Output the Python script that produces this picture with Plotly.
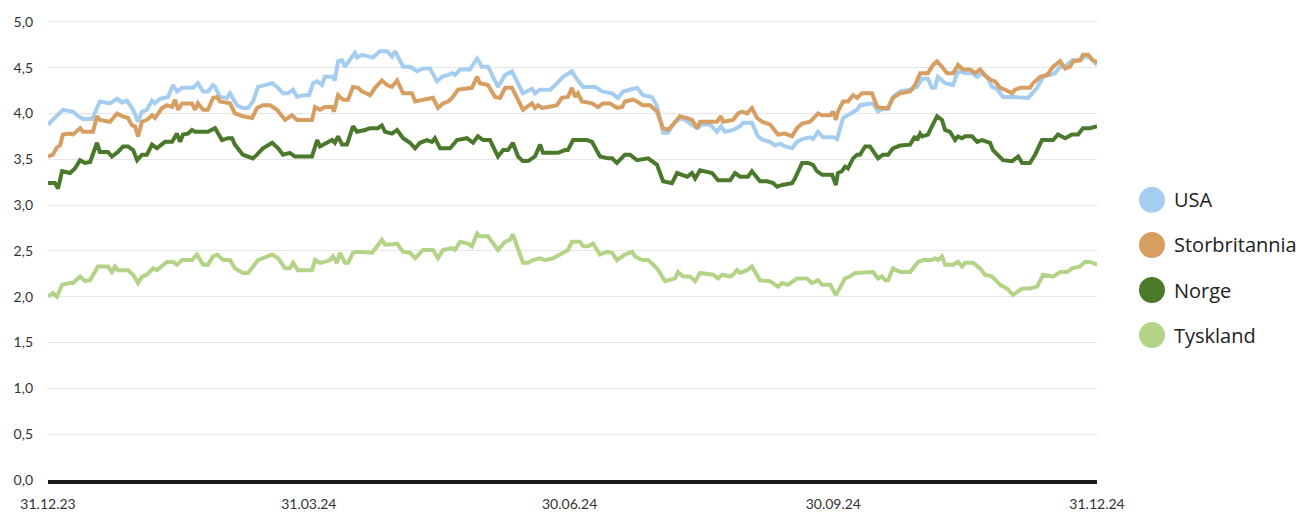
import pandas as pd
import plotly.graph_objects as go

BASE_DATE = "2023-12-31"

# days after 31.12.23 and values (percent)
usa_days = [0, 1.7, 5.2, 8.7, 10.5, 12.2, 15.4, 18.1, 21.6, 24.1,
            25.8, 27.6, 29.7, 31.4, 32.8, 34.5, 36.3, 37.3, 39.1, 41.9,
            43.6, 45.0, 46.8, 50.6, 52.3, 54.1, 55.8, 57.6, 58.3, 60.0,
            62.5, 63.5, 65.9, 68.0, 69.8, 71.5, 73.3, 75.7, 78.2, 79.9,
            82.0, 83.7, 85.5, 86.9, 89.0, 91.1, 92.5, 93.9, 95.6, 96.6,
            99.4, 100.1, 101.2, 102.6, 103.6, 106.1, 107.1, 107.8, 109.6, 113.4,
            115.8, 118.3, 120.0, 121.1, 123.9, 126.3, 128.8, 130.8, 133.3, 135.7,
            137.5, 139.6, 141.0, 142.0, 143.8, 147.2, 149.7, 151.4, 153.5, 157.0,
            159.5, 161.9, 165.7, 168.9, 169.9, 171.7, 175.2, 177.6, 179.7, 182.8,
            184.6, 186.7, 190.9, 193.3, 196.8, 198.9, 200.6, 205.5, 207.6, 210.7,
            212.5, 214.6, 216.3, 218.8, 221.2, 224.0, 226.5, 228.2, 231.0, 233.4,
            234.8, 236.2, 239.0, 241.5, 242.5, 245.6, 247.7, 249.5, 251.9, 253.7,
            255.4, 257.2, 259.6, 261.3, 263.1, 265.9, 266.9, 268.7, 270.4, 273.9,
            275.3, 277.4, 280.5, 282.3, 283.3, 287.9, 289.6, 291.3, 293.1, 294.8,
            297.3, 300.8, 303.2, 305.0, 307.0, 308.4, 309.5, 310.5, 313.0, 315.8,
            317.2, 318.2, 320.0, 322.4, 324.2, 325.9, 328.0, 329.4, 331.1, 333.2,
            336.4, 339.2, 342.0, 345.1, 347.2, 351.4, 353.1, 354.9, 357.3, 360.1,
            361.8, 363.6, 366]
usa_vals = [3.88, 3.93, 4.04, 4.02, 3.97, 3.94, 3.94, 4.13, 4.11, 4.16,
            4.12, 4.14, 4.04, 3.91, 4.02, 4.04, 4.14, 4.11, 4.16, 4.18,
            4.31, 4.24, 4.28, 4.28, 4.33, 4.24, 4.24, 4.31, 4.29, 4.18,
            4.17, 4.22, 4.09, 4.06, 4.06, 4.13, 4.29, 4.31, 4.33, 4.29,
            4.22, 4.22, 4.26, 4.18, 4.20, 4.20, 4.33, 4.35, 4.31, 4.40,
            4.40, 4.36, 4.57, 4.58, 4.51, 4.62, 4.66, 4.61, 4.64, 4.61,
            4.68, 4.68, 4.62, 4.68, 4.51, 4.51, 4.46, 4.49, 4.49, 4.35,
            4.40, 4.42, 4.44, 4.42, 4.48, 4.48, 4.60, 4.51, 4.51, 4.29,
            4.42, 4.46, 4.22, 4.27, 4.22, 4.26, 4.26, 4.33, 4.40, 4.46,
            4.37, 4.29, 4.29, 4.24, 4.22, 4.17, 4.24, 4.28, 4.20, 4.18,
            4.08, 3.79, 3.79, 3.91, 3.95, 3.89, 3.84, 3.88, 3.88, 3.80,
            3.86, 3.80, 3.82, 3.86, 3.90, 3.90, 3.75, 3.71, 3.69, 3.65,
            3.67, 3.64, 3.62, 3.69, 3.72, 3.74, 3.72, 3.80, 3.74, 3.74,
            3.72, 3.95, 4.00, 4.04, 4.09, 4.11, 4.02, 4.05, 4.05, 4.18,
            4.24, 4.26, 4.29, 4.38, 4.38, 4.28, 4.28, 4.40, 4.33, 4.31,
            4.44, 4.46, 4.44, 4.44, 4.40, 4.44, 4.38, 4.29, 4.27, 4.18,
            4.18, 4.17, 4.17, 4.28, 4.40, 4.44, 4.51, 4.51, 4.58, 4.58,
            4.62, 4.61, 4.53]

uk_days = [0, 1.7, 3.1, 4.2, 5.2, 7.7, 8.7, 11.2, 12.2, 15.7,
           17.1, 18.1, 21.6, 24.1, 25.8, 27.9, 29.3, 30.4, 31.4, 32.8,
           34.5, 36.3, 37.3, 39.8, 41.5, 43.3, 44.3, 45.4, 46.8, 50.2,
           51.3, 52.3, 54.1, 55.8, 57.6, 59.0, 60.0, 63.5, 65.2, 68.0,
           71.2, 72.9, 75.0, 77.5, 79.9, 82.7, 85.1, 86.9, 92.1, 93.2,
           94.9, 96.6, 99.1, 99.8, 101.2, 102.9, 104.7, 106.4, 108.2, 109.6,
           112.4, 114.1, 116.5, 118.3, 120.0, 121.8, 123.9, 127.0, 128.1, 130.8,
           134.3, 136.1, 137.8, 139.6, 141.0, 143.1, 147.9, 149.7, 150.7, 153.5,
           156.0, 157.7, 159.5, 161.9, 165.7, 168.9, 169.9, 171.0, 172.4, 174.5,
           177.6, 179.3, 181.4, 182.8, 183.9, 184.9, 186.3, 189.8, 191.9, 193.6,
           196.1, 198.5, 200.3, 201.3, 204.1, 205.5, 207.6, 210.0, 212.5, 214.6,
           216.3, 218.1, 220.5, 223.0, 224.7, 226.5, 227.5, 233.4, 234.8, 235.5,
           239.0, 240.8, 242.1, 243.9, 245.6, 247.4, 249.1, 251.9, 254.7, 257.2,
           259.6, 261.3, 263.1, 265.9, 268.7, 270.1, 272.9, 273.9, 274.9, 275.6,
           277.4, 279.1, 280.9, 282.3, 284.0, 287.5, 289.3, 291.3, 293.1, 294.8,
           297.3, 300.8, 302.5, 304.3, 307.0, 308.8, 310.2, 311.9, 313.7, 315.8,
           317.5, 319.3, 321.7, 323.5, 325.2, 326.9, 328.7, 330.4, 332.2, 333.9,
           336.4, 337.4, 339.2, 342.6, 343.7, 346.1, 348.6, 350.7, 353.1, 354.9,
           356.6, 357.7, 360.1, 361.1, 362.9, 364.6, 366]
uk_vals = [3.53, 3.55, 3.63, 3.65, 3.77, 3.78, 3.77, 3.84, 3.80, 3.80,
           3.97, 3.93, 3.91, 4.00, 3.97, 3.95, 3.87, 3.86, 3.75, 3.91,
           3.93, 3.98, 3.95, 4.06, 4.09, 4.07, 4.15, 4.04, 4.11, 4.11,
           4.04, 4.11, 4.04, 4.04, 4.17, 4.18, 4.13, 4.11, 4.00, 3.97,
           3.95, 4.06, 4.09, 4.09, 4.04, 3.93, 3.98, 3.93, 3.93, 4.07,
           4.04, 4.07, 4.07, 4.02, 4.20, 4.15, 4.15, 4.29, 4.28, 4.24,
           4.20, 4.28, 4.36, 4.31, 4.29, 4.36, 4.22, 4.22, 4.13, 4.15,
           4.17, 4.06, 4.11, 4.13, 4.17, 4.26, 4.28, 4.40, 4.33, 4.31,
           4.18, 4.17, 4.28, 4.28, 4.04, 4.11, 4.06, 4.09, 4.06, 4.07,
           4.09, 4.17, 4.18, 4.28, 4.18, 4.22, 4.13, 4.11, 4.07, 4.11,
           4.11, 4.06, 4.07, 4.13, 4.15, 4.13, 4.09, 4.09, 4.02, 3.84,
           3.82, 3.88, 3.97, 3.95, 3.93, 3.84, 3.91, 3.91, 3.97, 3.91,
           3.93, 4.00, 4.02, 4.00, 4.06, 3.95, 3.91, 3.88, 3.77, 3.78,
           3.75, 3.84, 3.89, 3.91, 4.00, 3.98, 3.98, 4.02, 3.93, 4.02,
           4.13, 4.13, 4.20, 4.17, 4.22, 4.22, 4.07, 4.06, 4.06, 4.17,
           4.22, 4.24, 4.31, 4.44, 4.44, 4.53, 4.57, 4.51, 4.44, 4.44,
           4.53, 4.48, 4.48, 4.44, 4.48, 4.42, 4.37, 4.35, 4.28, 4.26,
           4.22, 4.26, 4.28, 4.28, 4.33, 4.40, 4.42, 4.51, 4.57, 4.49,
           4.51, 4.57, 4.58, 4.64, 4.64, 4.58, 4.56]

no_days = [0, 2.4, 3.5, 4.9, 7.7, 9.4, 11.2, 12.9, 14.7, 15.7,
           17.1, 18.1, 20.9, 22.3, 24.4, 26.2, 27.9, 29.7, 31.1, 32.8,
           34.5, 36.3, 38.0, 40.8, 43.3, 45.0, 46.1, 47.1, 48.8, 50.2,
           51.3, 55.8, 58.3, 60.7, 62.8, 64.2, 65.2, 68.0, 71.5, 72.9,
           75.0, 78.2, 80.3, 82.0, 84.4, 86.2, 92.1, 93.9, 94.9, 97.3,
           99.1, 100.1, 101.2, 102.6, 104.3, 106.4, 107.8, 110.6, 112.4, 115.1,
           116.5, 117.6, 120.0, 121.8, 123.9, 126.3, 128.1, 129.8, 132.2, 134.0,
           135.0, 136.8, 140.3, 142.7, 146.2, 148.3, 150.0, 151.8, 154.2, 157.0,
           158.8, 160.5, 162.2, 164.0, 165.7, 167.5, 169.9, 171.7, 172.7, 175.2,
           178.0, 180.4, 181.4, 183.2, 188.1, 189.8, 192.6, 195.4, 196.8, 198.5,
           201.3, 203.1, 205.5, 209.4, 212.5, 214.6, 217.7, 219.5, 221.2, 223.0,
           224.7, 225.8, 227.5, 229.2, 231.7, 233.8, 238.0, 239.7, 241.5, 244.2,
           245.6, 248.4, 250.9, 253.0, 254.4, 256.1, 259.6, 260.6, 263.1, 265.2,
           266.9, 268.3, 270.1, 273.6, 274.9, 275.6, 277.0, 278.1, 279.1, 280.9,
           282.3, 283.3, 285.1, 286.8, 289.6, 291.3, 293.1, 294.8, 297.3, 300.8,
           302.5, 303.2, 304.3, 305.0, 307.0, 308.4, 310.2, 311.9, 313.0, 314.7,
           316.5, 317.5, 318.9, 320.0, 322.4, 324.2, 325.9, 328.7, 329.7, 333.2,
           336.4, 338.5, 339.9, 342.6, 344.4, 346.8, 348.9, 350.7, 352.4, 354.9,
           357.3, 359.4, 361.1, 363.6, 366]
no_vals = [3.24, 3.24, 3.18, 3.37, 3.35, 3.40, 3.49, 3.46, 3.47, 3.57,
           3.68, 3.58, 3.58, 3.53, 3.58, 3.64, 3.64, 3.60, 3.49, 3.55,
           3.55, 3.66, 3.62, 3.69, 3.69, 3.78, 3.69, 3.77, 3.78, 3.82,
           3.80, 3.80, 3.84, 3.71, 3.73, 3.73, 3.66, 3.55, 3.51, 3.55,
           3.62, 3.68, 3.62, 3.55, 3.57, 3.53, 3.53, 3.71, 3.64, 3.68,
           3.71, 3.68, 3.75, 3.66, 3.66, 3.86, 3.80, 3.82, 3.84, 3.84,
           3.87, 3.80, 3.78, 3.82, 3.73, 3.68, 3.62, 3.68, 3.71, 3.69,
           3.73, 3.62, 3.62, 3.71, 3.73, 3.68, 3.75, 3.71, 3.71, 3.53,
           3.60, 3.60, 3.68, 3.53, 3.48, 3.48, 3.53, 3.66, 3.57, 3.57,
           3.57, 3.60, 3.60, 3.71, 3.71, 3.69, 3.53, 3.51, 3.51, 3.46,
           3.55, 3.55, 3.49, 3.51, 3.44, 3.26, 3.24, 3.35, 3.33, 3.31,
           3.35, 3.29, 3.38, 3.37, 3.35, 3.27, 3.27, 3.35, 3.31, 3.31,
           3.37, 3.26, 3.26, 3.24, 3.20, 3.22, 3.24, 3.29, 3.46, 3.46,
           3.44, 3.37, 3.33, 3.33, 3.22, 3.35, 3.37, 3.42, 3.40, 3.51,
           3.55, 3.55, 3.64, 3.64, 3.51, 3.55, 3.55, 3.62, 3.65, 3.66,
           3.75, 3.71, 3.78, 3.75, 3.77, 3.86, 3.97, 3.93, 3.82, 3.80,
           3.71, 3.75, 3.73, 3.75, 3.75, 3.69, 3.71, 3.68, 3.60, 3.49,
           3.48, 3.53, 3.46, 3.46, 3.55, 3.71, 3.71, 3.71, 3.77, 3.73,
           3.77, 3.77, 3.84, 3.84, 3.86]

de_days = [0, 1.7, 3.1, 4.9, 7.7, 8.7, 11.2, 12.9, 14.7, 17.4,
           20.9, 22.3, 23.4, 24.4, 27.9, 29.7, 31.4, 32.8, 34.5, 36.6,
           38.0, 41.5, 43.6, 45.0, 46.8, 50.2, 52.0, 54.1, 55.8, 57.6,
           59.0, 61.1, 63.5, 65.2, 68.0, 69.8, 73.3, 76.4, 78.2, 80.3,
           82.7, 84.4, 85.5, 87.2, 92.1, 93.2, 94.9, 96.6, 98.4, 99.4,
           100.8, 101.9, 103.6, 104.7, 106.4, 107.8, 111.3, 113.1, 116.5, 117.6,
           120.0, 121.8, 123.9, 126.3, 128.1, 130.8, 134.3, 136.1, 137.8, 141.0,
           142.0, 143.8, 146.5, 147.9, 149.7, 150.7, 153.5, 157.0, 159.5, 161.2,
           162.2, 165.7, 167.5, 169.2, 171.7, 173.4, 176.2, 177.6, 180.4, 181.4,
           182.8, 185.6, 186.7, 188.4, 190.2, 192.6, 195.0, 196.8, 198.5, 201.3,
           203.8, 204.8, 207.3, 209.4, 212.5, 215.3, 217.0, 218.8, 219.8, 221.6,
           224.0, 225.8, 227.5, 232.0, 233.8, 235.2, 238.0, 239.0, 240.4, 241.5,
           243.9, 245.6, 248.4, 251.9, 254.7, 256.1, 258.2, 261.3, 264.8, 266.6,
           268.7, 270.1, 272.9, 274.9, 278.1, 279.8, 281.6, 283.3, 285.8, 287.9,
           289.6, 291.0, 292.1, 293.1, 294.8, 297.3, 300.8, 303.6, 305.3, 308.4,
           309.5, 310.5, 311.9, 313.0, 315.8, 317.5, 318.9, 320.0, 322.8, 325.2,
           326.9, 329.4, 332.2, 334.6, 336.7, 339.9, 342.6, 345.1, 347.2, 350.7,
           353.1, 355.6, 357.3, 360.1, 361.8, 363.6, 366]
de_vals = [2.00, 2.04, 2.00, 2.13, 2.15, 2.15, 2.22, 2.17, 2.18, 2.33,
           2.33, 2.27, 2.33, 2.29, 2.29, 2.24, 2.15, 2.22, 2.24, 2.31,
           2.29, 2.38, 2.38, 2.35, 2.40, 2.40, 2.46, 2.35, 2.35, 2.44,
           2.46, 2.40, 2.40, 2.31, 2.26, 2.26, 2.40, 2.44, 2.46, 2.42,
           2.31, 2.31, 2.37, 2.29, 2.29, 2.40, 2.37, 2.38, 2.40, 2.44,
           2.37, 2.48, 2.37, 2.37, 2.48, 2.49, 2.49, 2.48, 2.62, 2.57,
           2.57, 2.58, 2.49, 2.48, 2.42, 2.51, 2.51, 2.42, 2.51, 2.53,
           2.51, 2.60, 2.58, 2.55, 2.69, 2.66, 2.66, 2.51, 2.60, 2.62,
           2.68, 2.37, 2.37, 2.40, 2.42, 2.40, 2.42, 2.44, 2.49, 2.51,
           2.60, 2.60, 2.55, 2.55, 2.58, 2.46, 2.49, 2.48, 2.40, 2.46,
           2.49, 2.44, 2.40, 2.40, 2.31, 2.17, 2.18, 2.20, 2.27, 2.22,
           2.22, 2.17, 2.26, 2.24, 2.20, 2.24, 2.22, 2.24, 2.29, 2.26,
           2.29, 2.33, 2.18, 2.17, 2.11, 2.15, 2.13, 2.20, 2.20, 2.15,
           2.18, 2.13, 2.13, 2.02, 2.20, 2.22, 2.26, 2.26, 2.27, 2.27,
           2.20, 2.22, 2.18, 2.18, 2.31, 2.27, 2.27, 2.38, 2.40, 2.40,
           2.42, 2.40, 2.44, 2.35, 2.35, 2.38, 2.33, 2.37, 2.37, 2.31,
           2.24, 2.22, 2.13, 2.09, 2.02, 2.09, 2.09, 2.11, 2.24, 2.22,
           2.27, 2.27, 2.31, 2.33, 2.38, 2.38, 2.35]

series_names = ["USA", "Storbritannia", "Norge", "Tyskland"]
series_colors = ["#a4cdef", "#d79e62", "#4b792b", "#b3d387"]
series_days = [usa_days, uk_days, no_days, de_days]
series_vals = [usa_vals, uk_vals, no_vals, de_vals]

x_tick_dates = ["2023-12-31", "2024-03-31", "2024-06-30", "2024-09-30", "2024-12-31"]
x_tick_text = ["31.12.23", "31.03.24", "30.06.24", "30.09.24", "31.12.24"]
y_ticks = [0, 0.5, 1, 1.5, 2, 2.5, 3, 3.5, 4, 4.5, 5]

FONT = "Lato"
LEGEND_FONT = "Open Sans"
base = pd.Timestamp(BASE_DATE)

fig = go.Figure()
for name, color, days, vals in zip(series_names, series_colors, series_days, series_vals):
    assert len(days) == len(vals), name
    dates = base + pd.to_timedelta(days, unit="D")
    fig.add_trace(go.Scatter(x=dates, y=vals, mode="lines", name=name,
                             line=dict(color=color, width=4), showlegend=False))

# custom legend with large circles (paper coords relative to plot area)
legend_y = [0.609, 0.511, 0.413, 0.315]
shapes = []
annotations = []
for name, color, ly in zip(series_names, series_colors, legend_y):
    shapes.append(dict(type="circle", xref="paper", yref="paper",
                       xsizemode="pixel", ysizemode="pixel",
                       xanchor=1.0524, yanchor=ly,
                       x0=-13, x1=13, y0=-13, y1=13,
                       fillcolor=color, line=dict(width=0)))
    annotations.append(dict(text=name, xref="paper", yref="paper",
                            x=1.0715, y=ly, xanchor="left", yanchor="middle",
                            showarrow=False,
                            font=dict(family=LEGEND_FONT, size=20, color="#222222")))

# page body has an 8px margin, so the figure is sized/offset to compensate
fig.update_layout(
    width=1301, height=505,
    margin=dict(l=40, r=212, t=12, b=33),
    paper_bgcolor="white", plot_bgcolor="white",
    separators=", ",
    shapes=shapes, annotations=annotations,
    font=dict(family=FONT, color="#333333"),
)
fig.update_xaxes(
    type="date", automargin=False,
    range=[x_tick_dates[0], x_tick_dates[-1]],
    tickvals=x_tick_dates, ticktext=x_tick_text,
    showgrid=False, ticks="", showline=True, linecolor="#1a1a1a", linewidth=4,
    tickfont=dict(family=FONT, size=14, color="#333333"),
    ticklabelstandoff=8,
)
fig.update_yaxes(
    automargin=False,
    range=[0, 5.02], tickvals=y_ticks, tickformat=".1f",
    showgrid=True, gridcolor="#e6e6e6", gridwidth=1,
    zeroline=False, ticks="", showline=False,
    tickfont=dict(family=FONT, size=14, color="#333333"),
    ticklabelstandoff=14,
)

fig.write_html("out.html")
